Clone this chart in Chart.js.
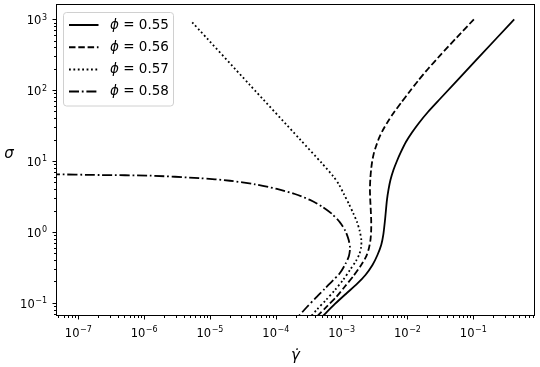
<!DOCTYPE html>
<html>
<head>
<meta charset="utf-8">
<script src="https://cdn.jsdelivr.net/npm/chart.js@4.4.1/dist/chart.umd.min.js"></script>
<style>
  html, body { margin: 0; padding: 0; background: #fff; }
</style>
</head>
<body>
<canvas id="flowChart" width="540" height="367"></canvas>
<script>
// packing fractions (legend labels)
const phiLabels = ['0.55', '0.56', '0.57', '0.58'];

// shear rate (gamma dot) and stress (sigma)
const gamma055 = [0.418, 0.112, 0.0311, 0.02046, 0.01493, 0.01170, 9.46e-3, 7.96e-3, 6.92e-3, 6.12e-3, 5.51e-3, 5.14e-3,
  4.88e-3, 4.71e-3, 4.56e-3, 4.29e-3, 3.99e-3, 3.50e-3, 2.94e-3, 2.30e-3, 1.71e-3, 1.19e-3, 7.91e-4, 5.02e-4];
const sigma055 = [1000, 269, 75.0, 49.2, 34.4, 25.2, 18.5, 13.4, 10.0, 7.46, 5.39, 3.90,
  2.82, 2.03, 1.47, 0.903, 0.652, 0.471, 0.340, 0.246, 0.184, 0.136, 0.0959, 0.0628];

const gamma056 = [0.102, 0.0564, 0.0311, 0.02046, 0.01442, 0.01052, 7.96e-3, 6.22e-3, 5.05e-3, 4.24e-3, 3.68e-3, 3.32e-3,
  3.07e-3, 2.90e-3, 2.79e-3, 2.72e-3, 2.69e-3, 2.72e-3, 2.77e-3, 2.81e-3, 2.81e-3, 2.74e-3, 2.58e-3, 2.34e-3,
  1.96e-3, 1.51e-3, 1.12e-3, 8.39e-4, 5.98e-4, 4.07e-4];
const sigma056 = [1000, 557, 307, 199, 135, 92.6, 65.9, 48.4, 36.1, 27.4, 20.8, 16.0,
  12.6, 9.68, 7.23, 5.39, 3.90, 2.82, 2.03, 1.47, 1.06, 0.767, 0.573, 0.442,
  0.335, 0.238, 0.169, 0.122, 0.0884, 0.0618];

const gamma057 = [5.38e-6, 4.05e-5, 2.33e-4, 5.02e-4, 7.45e-4, 9.10e-4, 1.08e-3, 1.29e-3, 1.50e-3, 1.71e-3, 1.88e-3,
  1.99e-3, 1.98e-3, 1.86e-3, 1.65e-3, 1.34e-3, 1.05e-3, 7.91e-4, 5.78e-4, 4.22e-4, 3.30e-4];
const sigma057 = [907, 118, 20.2, 9.28, 6.08, 4.66, 3.42, 2.47, 1.83, 1.38, 1.03,
  0.767, 0.611, 0.486, 0.388, 0.290, 0.209, 0.151, 0.109, 0.0802, 0.0618];

const gamma058 = [3.72e-8, 2.14e-7, 1.23e-6, 7.05e-6, 2.01e-5, 4.82e-5, 1.04e-4, 1.95e-4, 3.30e-4, 5.02e-4, 7.13e-4,
  9.42e-4, 1.14e-3, 1.28e-3, 1.34e-3, 1.29e-3, 1.14e-3, 9.42e-4, 7.38e-4, 5.57e-4, 4.07e-4, 2.97e-4, 2.17e-4];
const sigma058 = [6.51, 6.34, 6.21, 5.72, 5.26, 4.69, 4.03, 3.42, 2.82, 2.28, 1.79,
  1.36, 1.03, 0.767, 0.592, 0.456, 0.352, 0.262, 0.206, 0.158, 0.118, 0.0869, 0.0628];

// axis ranges and labelled decades
const xRange = [4.75e-8, 0.835];
const yRange = [0.067, 1592];
const xDecades = [-7, -6, -5, -4, -3, -2, -1];
const yDecades = [-1, 0, 1, 2, 3];

const dashes = [[], [6.5, 2.8], [1.8, 2.6], [10, 2.8, 1.8, 2.8]];
const gammas = [gamma055, gamma056, gamma057, gamma058];
const sigmas = [sigma055, sigma056, sigma057, sigma058];

function isDecade(v) {
  const l = Math.log10(v);
  return Math.abs(l - Math.round(l)) < 1e-9;
}

// 1..9 x 10^n ticks inside [min, max]
function logTicks(min, max) {
  const out = [];
  for (let e = Math.floor(Math.log10(min)); e <= Math.ceil(Math.log10(max)); e++) {
    for (let m = 1; m <= 9; m++) {
      const v = m * Math.pow(10, e);
      if (v >= min && v <= max) out.push({value: v});
    }
  }
  return out;
}

// "10" with a raised exponent, anchored at (x, baseline)
function drawPow(ctx, p, x, base, align) {
  const expText = p < 0 ? '\u2212' + Math.abs(p) : String(p);
  ctx.font = '11.5px "DejaVu Sans"';
  const w1 = ctx.measureText('10').width;
  ctx.font = '8px "DejaVu Sans"';
  const w2 = ctx.measureText(expText).width;
  const total = w1 + w2 + 0.5;
  let left = align === 'center' ? x - total / 2 : x - total;
  ctx.textAlign = 'left';
  ctx.textBaseline = 'alphabetic';
  ctx.font = '11.5px "DejaVu Sans"';
  ctx.fillText('10', left, base);
  ctx.font = '8px "DejaVu Sans"';
  ctx.fillText(expText, left + w1 + 0.5, base - 4.5);
}

const decor = {
  id: 'decor',
  afterDraw(chart) {
    const {ctx, chartArea: a, scales: {x, y}} = chart;
    ctx.save();
    ctx.strokeStyle = '#000';
    ctx.lineWidth = 1;
    ctx.setLineDash([]);
    // frame
    ctx.strokeRect(a.left - 0.5, a.top - 0.5, a.right - a.left + 1, a.bottom - a.top + 1);
    // tick marks, major and minor
    ctx.beginPath();
    x.ticks.forEach(t => {
      const px = Math.round(x.getPixelForValue(t.value)) + 0.5;
      const len = isDecade(t.value) ? 4 : 2.5;
      ctx.moveTo(px, a.bottom + 0.5);
      ctx.lineTo(px, a.bottom + 0.5 + len);
    });
    y.ticks.forEach(t => {
      const py = Math.round(y.getPixelForValue(t.value)) + 0.5;
      const len = isDecade(t.value) ? 4 : 2.5;
      ctx.moveTo(a.left - 0.5, py);
      ctx.lineTo(a.left - 0.5 - len, py);
    });
    ctx.stroke();

    // tick labels
    ctx.fillStyle = '#000';
    xDecades.forEach(p => {
      const px = x.getPixelForValue(Math.pow(10, p));
      drawPow(ctx, p, px, 336.5, 'center');
    });
    yDecades.forEach(p => {
      const py = y.getPixelForValue(Math.pow(10, p));
      drawPow(ctx, p, 47, py + 5, 'right');
    });

    // axis titles
    ctx.font = 'italic 15px "DejaVu Sans"';
    ctx.textAlign = 'center';
    ctx.textBaseline = 'alphabetic';
    ctx.fillText('\u03B3\u0307', (a.left + a.right) / 2, 360);
    ctx.fillText('\u03C3', 9, 158);

    // legend
    const bx = 63.5, by = 12.5, bw = 110, bh = 93.5, r = 3;
    ctx.beginPath();
    ctx.moveTo(bx + r, by);
    ctx.lineTo(bx + bw - r, by);
    ctx.arcTo(bx + bw, by, bx + bw, by + r, r);
    ctx.lineTo(bx + bw, by + bh - r);
    ctx.arcTo(bx + bw, by + bh, bx + bw - r, by + bh, r);
    ctx.lineTo(bx + r, by + bh);
    ctx.arcTo(bx, by + bh, bx, by + bh - r, r);
    ctx.lineTo(bx, by + r);
    ctx.arcTo(bx, by, bx + r, by, r);
    ctx.closePath();
    ctx.fillStyle = 'rgba(255,255,255,0.8)';
    ctx.fill();
    ctx.strokeStyle = '#d0d0d0';
    ctx.stroke();

    chart.data.datasets.forEach((ds, i) => {
      const ry = 25 + i * 22.2;
      ctx.strokeStyle = '#000';
      ctx.lineWidth = 2;
      ctx.setLineDash(ds.borderDash);
      ctx.beginPath();
      ctx.moveTo(69, ry);
      ctx.lineTo(98.5, ry);
      ctx.stroke();
      ctx.setLineDash([]);
      ctx.fillStyle = '#000';
      ctx.textAlign = 'left';
      ctx.textBaseline = 'middle';
      ctx.font = 'italic 13.5px "DejaVu Sans"';
      ctx.fillText('\u03D5', 110, ry);
      const w = ctx.measureText('\u03D5').width;
      ctx.font = '13.5px "DejaVu Sans"';
      ctx.fillText(' = ' + phiLabels[i], 110 + w, ry);
    });
    ctx.restore();
  }
};

const ctx = document.getElementById('flowChart').getContext('2d');
const flowChart = new Chart(ctx, {
  type: 'scatter',
  data: {
    datasets: phiLabels.map((phi, i) => ({
      label: '\u03D5 = ' + phi,
      data: gammas[i].map((g, k) => ({x: g, y: sigmas[i][k]})),
      showLine: true,
      borderColor: '#000',
      backgroundColor: '#000',
      borderWidth: 1.8,
      borderDash: dashes[i],
      pointRadius: 0,
      tension: 0.25,
      fill: false
    }))
  },
  options: {
    responsive: false,
    animation: false,
    devicePixelRatio: 1,
    layout: {padding: {left: 0, right: 6, top: 5, bottom: 0}},
    plugins: {legend: {display: false}, tooltip: {enabled: false}},
    scales: {
      x: {
        type: 'logarithmic',
        min: xRange[0],
        max: xRange[1],
        afterBuildTicks: s => { s.ticks = logTicks(xRange[0], xRange[1]); },
        afterFit: s => { s.height = 52; },
        grid: {display: false},
        border: {display: false},
        ticks: {display: false, autoSkip: false}
      },
      y: {
        type: 'logarithmic',
        min: yRange[0],
        max: yRange[1],
        afterBuildTicks: s => { s.ticks = logTicks(yRange[0], yRange[1]); },
        afterFit: s => { s.width = 57; },
        grid: {display: false},
        border: {display: false},
        ticks: {display: false, autoSkip: false}
      }
    }
  },
  plugins: [decor]
});
</script>
</body>
</html>
